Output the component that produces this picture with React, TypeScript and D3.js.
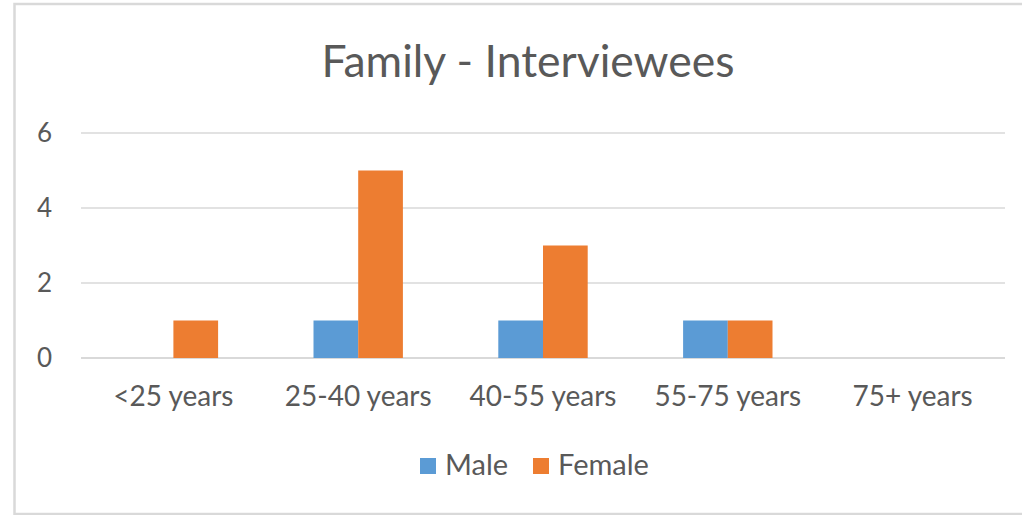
import React from "react";
import * as d3 from "d3";

const categories = ["<25 years", "25-40 years", "40-55 years", "55-75 years", "75+ years"];
const maleValues = [0, 1, 1, 1, 0];
const femaleValues = [1, 5, 3, 1, 0];
const yTicks = [0, 2, 4, 6];
const seriesNames = ["Male", "Female"];
const seriesColors = ["#5B9BD5", "#ED7D31"];

const W = 1022;
const H = 515;
const FONT = "Lato, 'Open Sans', sans-serif";

export default function App() {
  const x = d3.scaleBand().domain(categories).range([81, 1005]).paddingInner(0).paddingOuter(0);
  const y = d3.scaleLinear().domain([0, 6]).range([358, 133]);
  const barW = 44.7;
  const series = [maleValues, femaleValues];

  return (
    <svg width={W} height={H} style={{ position: "absolute", left: 0, top: 0 }}>
      <rect x={0} y={0} width={W} height={H} fill="#fff" />
      <rect x={14.5} y={4} width={W + 10} height={510} fill="#fff" stroke="#d9d9d9" strokeWidth={2.5} />
      <text x={528} y={77} textAnchor="middle" fontFamily={FONT} fontSize={44.5} fill="#595959">
        Family - Interviewees
      </text>
      {yTicks.map((t) => (
        <g key={t}>
          <line x1={81} x2={1005} y1={y(t)} y2={y(t)} stroke="#d9d9d9" strokeWidth={t === 0 ? 2 : 1.5} />
          <text x={52} y={y(t) + 9} textAnchor="end" fontFamily={FONT} fontSize={26} fill="#595959">
            {t}
          </text>
        </g>
      ))}
      {categories.map((c, i) => {
        const cx = (x(c) as number) + x.bandwidth() / 2;
        return (
          <g key={c}>
            {series.map((vals, s) =>
              vals[i] > 0 ? (
                <rect
                  key={s}
                  x={cx - barW + s * barW}
                  y={y(vals[i])}
                  width={barW}
                  height={y(0) - y(vals[i])}
                  fill={seriesColors[s]}
                />
              ) : null
            )}
            <text x={cx} y={406} textAnchor="middle" fontFamily={FONT} fontSize={28} fill="#595959">
              {c}
            </text>
          </g>
        );
      })}
      <g>
        <rect x={420} y={458} width={16} height={16} fill={seriesColors[0]} />
        <text x={445} y={475} fontFamily={FONT} fontSize={29} fill="#595959">{seriesNames[0]}</text>
        <rect x={533} y={458} width={16} height={16} fill={seriesColors[1]} />
        <text x={558} y={475} fontFamily={FONT} fontSize={29} fill="#595959">{seriesNames[1]}</text>
      </g>
    </svg>
  );
}
